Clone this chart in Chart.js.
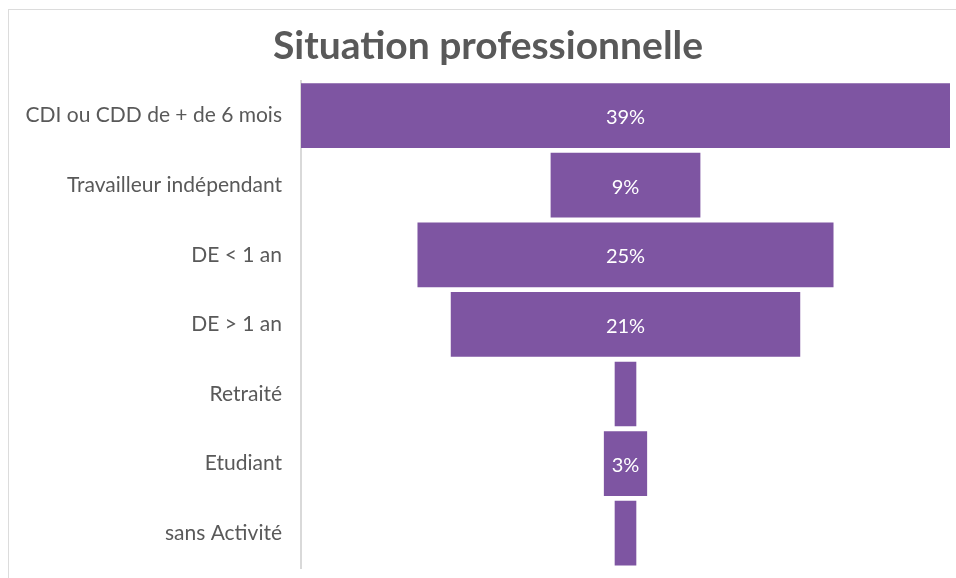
<!DOCTYPE html>
<html><head><meta charset="utf-8">
<script src="https://cdn.jsdelivr.net/npm/chart.js@4"></script>
<style>
html,body{margin:0;padding:0;background:#fff;}
#wrap{position:relative;width:956px;height:578px;overflow:hidden;}
#frame{position:absolute;left:8px;top:9px;width:960px;height:600px;border-left:1.5px solid #dcdcdc;border-top:1.5px solid #dcdcdc;}
canvas{position:absolute;left:0;top:0;}
</style></head>
<body><div id="wrap"><div id="frame"></div><canvas id="c" width="956" height="578"></canvas></div>
<script>
const categories = ["CDI ou CDD de + de 6 mois","Travailleur indépendant","DE < 1 an","DE > 1 an","Retraité","Etudiant","sans Activité"];
const shares = [39, 9, 25, 21, 1.3, 2.6, 1.3];
const shareLabels = ["39%","9%","25%","21%","","3%",""];
const title = "Situation professionnelle";

const labelPlugin = {
  id:'barLabels',
  afterDatasetsDraw(chart){
    const ctx = chart.ctx;
    const meta = chart.getDatasetMeta(0);
    ctx.save();
    ctx.fillStyle = '#ffffff';
    ctx.font = '20px Lato, "Open Sans", sans-serif';
    ctx.textAlign = 'center';
    ctx.textBaseline = 'middle';
    meta.data.forEach((bar,i)=>{
      const t = shareLabels[i];
      if(!t) return;
      const p = bar.getProps(['x','y','base'],true);
      ctx.fillText(t,(p.x+p.base)/2,p.y+2);
    });
    ctx.restore();
  }
};

new Chart(document.getElementById('c'),{
  type:'bar',
  data:{
    labels:categories,
    datasets:[{
      data:shares.map(v=>[-v/2,v/2]),
      backgroundColor:'#7E55A2',
      borderWidth:0,
      barPercentage:1,
      categoryPercentage:0.93
    }]
  },
  options:{
    indexAxis:'y',
    responsive:false,
    animation:false,
    layout:{padding:{left:26,right:6,top:0,bottom:10}},
    plugins:{
      legend:{display:false},
      tooltip:{enabled:false},
      title:{display:true,text:title,color:'#595959',
        font:{family:'Lato, "Open Sans", sans-serif',size:39,weight:'bold',lineHeight:1.2},
        padding:{top:23,bottom:11}}
    },
    scales:{
      x:{display:false,min:-19.5,max:19.5},
      y:{
        grid:{display:false},
        border:{display:true,color:'#d9d9d9',width:2},
        ticks:{color:'#595959',font:{family:'Lato, "Open Sans", sans-serif',size:21},padding:11},
        afterFit(s){s.width=275;s.paddingTop=0;s.paddingBottom=0;}
      }
    }
  },
  plugins:[labelPlugin]
});
</script></body></html>
